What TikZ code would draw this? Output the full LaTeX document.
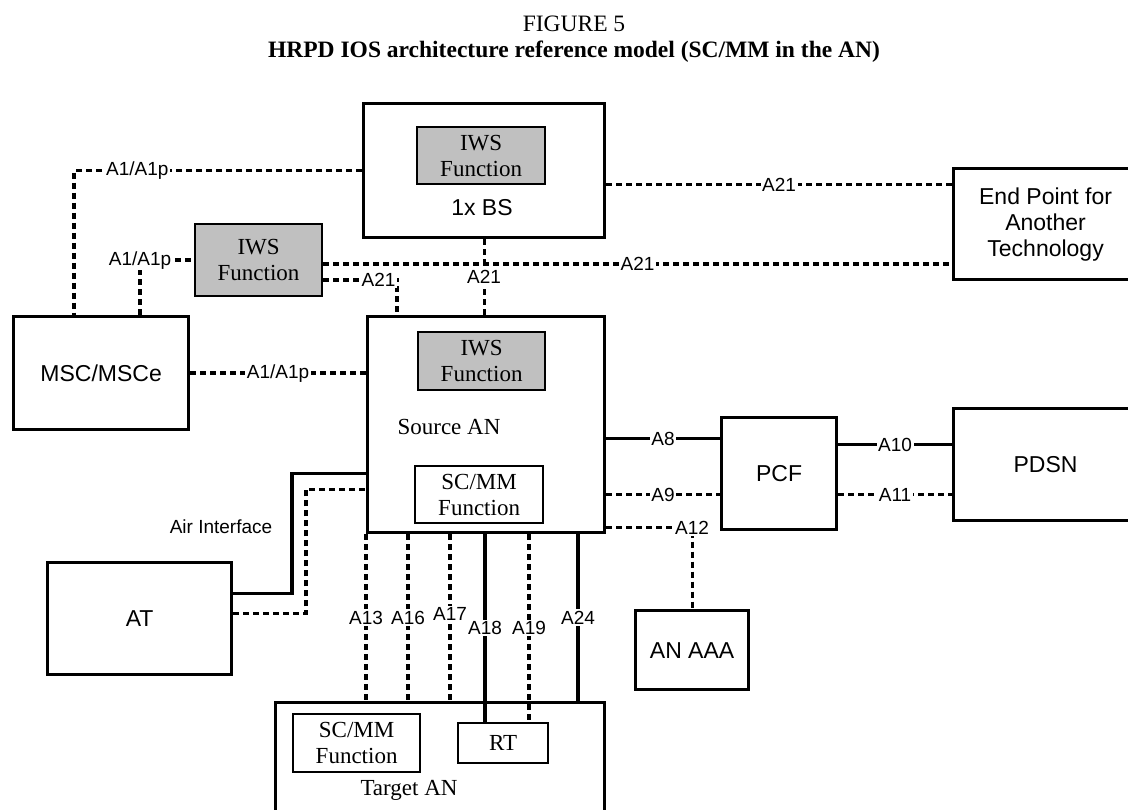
\documentclass[tikz,border=0pt]{standalone}
\usepackage{fontspec}
\setmainfont{Liberation Serif}
\setsansfont{Liberation Sans}
\usetikzlibrary{positioning}
\definecolor{iwsgray}{RGB}{192,192,192}

\begin{document}
\begin{tikzpicture}[x=1pt, y=-1pt,
    font=\sffamily\fontsize{23}{26}\selectfont,
    box/.style={draw, line width=3.2pt, inner sep=0pt, anchor=north west, align=center},
    fnbox/.style={draw, line width=2.2pt, inner sep=0pt, anchor=north west, align=center,
      fill=white, font=\rmfamily\fontsize{23}{26}\selectfont},
    iwsbox/.style={fnbox, fill=iwsgray},
    sig/.style={line width=3.2pt, dash pattern=on 6pt off 4pt},
    bear/.style={line width=3.2pt},
    lbl/.style={fill=white, inner sep=1.5pt, font=\sffamily\fontsize{19}{21}\selectfont}]
      \path[use as bounding box, fill=white] (0,0) rectangle (1128,810);
      % Title
      \node[anchor=base,
        font=\rmfamily\fontsize{23.5}{27}\selectfont] (fig) at (574,32) {FIGURE 5};
      \node[anchor=base,
        font=\rmfamily\bfseries\fontsize{23.5}{27}\selectfont] (caption) at (574,58)
        {HRPD IOS architecture reference model (SC/MM in the AN)};
      % Add the boxes
      \node[box, minimum width=175pt, minimum height=113pt] (msc) at (12,315) {MSC/MSCe};
      \node[iwsbox, minimum width=127pt, minimum height=72pt] (iws) at (194,223) {IWS\\Function};
      \node[box, minimum width=241pt, minimum height=134pt] (bs) at (362,102) {};
      \node[iwsbox, minimum width=128pt, minimum height=57pt] (bsiws) at (416,126) {IWS\\Function};
      \node (bsname) at (482,208) {1x BS};
      \node[box, minimum width=237pt, minimum height=216pt] (src) at (366,315) {};
      \node[iwsbox, minimum width=127pt, minimum height=58pt] (srciws) at (417,331) {IWS\\Function};
      \node[font=\rmfamily\fontsize{23}{26}\selectfont] (srcname) at (449,427) {Source AN};
      \node[fnbox, minimum width=128pt, minimum height=57pt] (srcscmm) at (414,465) {SC/MM\\Function};
      \node[box, minimum width=184pt, minimum height=111pt] (ept) at (952,167)
        {End Point for\\Another\\Technology};
      \node[box, minimum width=115pt, minimum height=112pt] (pcf) at (720,416) {PCF};
      \node[box, minimum width=184pt, minimum height=112pt] (pdsn) at (952,407) {PDSN};
      \node[box, minimum width=113pt, minimum height=79pt] (anaaa) at (634,609) {AN AAA};
      \node[box, minimum width=184pt, minimum height=112pt] (at) at (46,561) {AT};
      \node[lbl, fill=none] (airlbl) at (221,527) {Air Interface};
      \node[box, minimum width=329pt, minimum height=125pt] (tgt) at (274,701) {};
      \node[fnbox, minimum width=127pt, minimum height=58pt] (tgtscmm) at (292,713) {SC/MM\\Function};
      \node[fnbox, minimum width=90pt, minimum height=40pt] (rt) at (457,722) {RT};
      \node[font=\rmfamily\fontsize{23}{26}\selectfont] (tgtname) at (409,790) {Target AN};
      % Points where the links leave the boxes
      \coordinate (iwslo) at ([yshift=-20pt]iws.east);
      \coordinate (iwshi) at ([yshift=-4pt]iws.east);
      \coordinate (bsr) at ([yshift=-14pt]bs.east);
      \coordinate (airs) at ([yshift=-49pt]src.west);
      \coordinate (aird) at ([yshift=-65pt]src.west);
      \coordinate (a8) at ([yshift=-14pt]src.east);
      \coordinate (a9) at ([yshift=-70pt]src.east);
      \coordinate (a12) at ([yshift=-103pt]src.east);
      \coordinate (a10) at ([yshift=29pt]pcf.east);
      \coordinate (a11) at ([yshift=-21pt]pcf.east);
      \coordinate (a13) at (src.south west);
      \coordinate (a16) at ([xshift=42pt]src.south west);
      \coordinate (a17) at ([xshift=84pt]src.south west);
      \coordinate (a18) at ([xshift=119pt]src.south west);
      \coordinate (a19) at ([xshift=163pt]src.south west);
      \coordinate (a24) at ([xshift=212pt]src.south west);
      % Connect the boxes
      \draw[sig] (bs.west) -| ([xshift=62pt]msc.north west) node[lbl, pos=0.39] {A1/A1p};
      \draw[sig] ([xshift=128pt]msc.north west) |- (iws.west) node[lbl, pos=0.5] {A1/A1p};
      \draw[sig] (msc.east) -- (msc.east -| src.west) node[lbl, midway] {A1/A1p};
      \draw[sig] (iwshi) -- (iwshi -| ept.west) node[lbl, midway] {A21};
      \draw[sig] (iwslo) -| ([xshift=31pt]src.north west) node[lbl, pos=0.375] {A21};
      \draw[sig] (bsr) -- (bsr -| ept.west) node[lbl, midway] {A21};
      \draw[sig] (bs.south) -- (bs.south |- src.north) node[lbl, midway] {A21};
      \draw[bear] ([yshift=25pt]at.east) -| ([xshift=-74pt]airs) -- (airs);
      \draw[sig] ([yshift=5pt]at.east) -| ([xshift=-60pt]aird) -- (aird);
      \draw[bear] (a8) -- (a8 -| pcf.west) node[lbl, midway] {A8};
      \draw[sig] (a9) -- (a9 -| pcf.west) node[lbl, midway] {A9};
      \draw[sig] (a12) -| (anaaa.north) node[lbl, pos=0.5] {A12};
      \draw[bear] (a10) -- (a10 -| pdsn.west) node[lbl, midway] {A10};
      \draw[sig] (a11) -- (a11 -| pdsn.west) node[lbl, midway] {A11};
      \draw[sig] (a13) -- (a13 |- tgt.north) node[lbl, midway] {A13};
      \draw[sig] (a16) -- (a16 |- tgt.north) node[lbl, midway] {A16};
      \draw[sig] (a17) -- (a17 |- tgt.north) node[lbl, pos=0.48] {A17};
      \draw[bear] (a18) -- (a18 |- rt.north) node[lbl, midway] {A18};
      \draw[sig] (a19) -- (a19 |- rt.north) node[lbl, midway] {A19};
      \draw[bear] (a24) -- (a24 |- tgt.north) node[lbl, midway] {A24};
\end{tikzpicture}
\end{document}
